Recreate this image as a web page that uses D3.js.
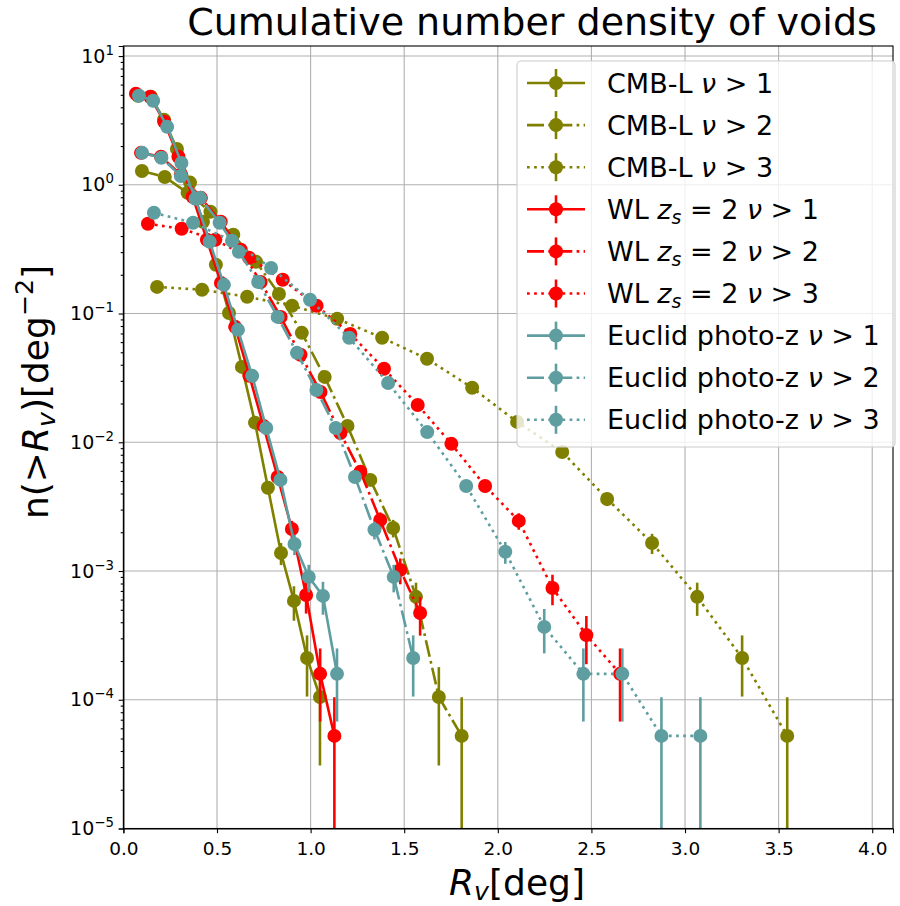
<!DOCTYPE html>
<html><head><meta charset="utf-8">
<script src="https://cdn.jsdelivr.net/npm/d3@7"></script>
<style>body{margin:0;background:#fff} text{font-family:"DejaVu Sans",sans-serif;white-space:pre}</style>
</head><body><svg id="c" width="900" height="906"></svg>
<script>
// ---- data ----
const unitDensity = 5.24e-5; // density of a single void (Poisson error unit)

const cmb1_x = [0.078,0.147,0.217,0.286,0.356,0.425,0.494,0.564,0.633,0.703,0.772,0.842,0.911,0.981,1.050];
const cmb1_y = [4.92,4.83,3.20,1.90,1.04,0.516,0.239,0.101,0.0385,0.0142,0.00443,0.00138,0.000586,0.000211,0.000105];
const cmb2_x = [0.099,0.221,0.343,0.465,0.587,0.709,0.831,0.953,1.075,1.197,1.319,1.441,1.563,1.685,1.807];
const cmb2_y = [1.28,1.15,0.867,0.617,0.409,0.252,0.142,0.0708,0.0322,0.0134,0.0051,0.00216,0.00063,0.000105,5.24e-5];
const cmb3_x = [0.180,0.420,0.661,0.901,1.142,1.382,1.622,1.863,2.103,2.344,2.584,2.824,3.065,3.305,3.546];
const cmb3_y = [0.161,0.153,0.135,0.115,0.091,0.0648,0.0445,0.0265,0.0144,0.00841,0.00363,0.00165,0.00063,0.000211,5.24e-5];

const wl1_x = [0.067,0.143,0.218,0.294,0.370,0.446,0.521,0.597,0.673,0.748,0.824,0.900,0.976,1.051,1.127];
const wl1_y = [5.09,4.83,3.09,1.65,0.807,0.374,0.173,0.0788,0.0328,0.0134,0.00538,0.00212,0.000652,0.000159,5.24e-5];
const wl2_x = [0.094,0.201,0.307,0.414,0.520,0.627,0.733,0.840,0.946,1.053,1.159,1.266,1.372,1.479,1.585];
const wl2_y = [1.77,1.65,1.20,0.792,0.516,0.313,0.176,0.0942,0.0478,0.0246,0.0118,0.00589,0.00249,0.00102,0.000472];
const wl3_x = [0.131,0.311,0.491,0.671,0.851,1.032,1.212,1.392,1.572,1.752,1.932,2.112,2.292,2.473,2.653];
const wl3_y = [0.498,0.455,0.374,0.271,0.183,0.115,0.0695,0.0372,0.0195,0.00972,0.00458,0.00245,0.000739,0.000318,0.000159];

const eu1_x = [0.083,0.159,0.234,0.310,0.385,0.461,0.537,0.612,0.688,0.763,0.839,0.914,0.990,1.066,1.141];
const eu1_y = [4.92,4.50,2.82,1.48,0.778,0.361,0.167,0.0747,0.0328,0.0129,0.0051,0.00162,0.0009,0.000641,0.000159];
const eu2_x = [0.100,0.203,0.307,0.410,0.514,0.617,0.720,0.824,0.927,1.031,1.134,1.237,1.341,1.444,1.548];
const eu2_y = [1.77,1.62,1.17,0.792,0.507,0.302,0.176,0.0942,0.0495,0.0255,0.0129,0.00538,0.00209,0.0009,0.000211];
const eu3_x = [0.163,0.372,0.580,0.789,0.997,1.206,1.414,1.623,1.831,2.040,2.248,2.457,2.665,2.874,3.082];
const eu3_y = [0.606,0.507,0.367,0.226,0.128,0.0648,0.0289,0.0120,0.00458,0.00141,0.000368,0.000159,0.000159,5.24e-5,5.24e-5];

const xTicks = [0.0,0.5,1.0,1.5,2.0,2.5,3.0,3.5,4.0];
const yTickExps = [-5,-4,-3,-2,-1,0,1];

// ---- styling / layout ----
const OLIVE = "#808000", RED = "#ff0000", TEAL = "#5f9ea0";
const DASH = {solid:null, dashdot:"17,4.3,2.7,4.3", dotted:"2.7,4.4"};
const series = [
  {x:cmb1_x, y:cmb1_y, c:OLIVE, ls:"solid",   lab:[{t:"CMB-L "},{t:"ν",it:1},{t:" > 1"}]},
  {x:cmb2_x, y:cmb2_y, c:OLIVE, ls:"dashdot", lab:[{t:"CMB-L "},{t:"ν",it:1},{t:" > 2"}]},
  {x:cmb3_x, y:cmb3_y, c:OLIVE, ls:"dotted",  lab:[{t:"CMB-L "},{t:"ν",it:1},{t:" > 3"}]},
  {x:wl1_x, y:wl1_y, c:RED, ls:"solid",   lab:[{t:"WL "},{t:"z",it:1},{t:"s",it:1,sub:1},{t:" = 2 "},{t:"ν",it:1},{t:" > 1"}]},
  {x:wl2_x, y:wl2_y, c:RED, ls:"dashdot", lab:[{t:"WL "},{t:"z",it:1},{t:"s",it:1,sub:1},{t:" = 2 "},{t:"ν",it:1},{t:" > 2"}]},
  {x:wl3_x, y:wl3_y, c:RED, ls:"dotted",  lab:[{t:"WL "},{t:"z",it:1},{t:"s",it:1,sub:1},{t:" = 2 "},{t:"ν",it:1},{t:" > 3"}]},
  {x:eu1_x, y:eu1_y, c:TEAL, ls:"solid",   lab:[{t:"Euclid photo-z "},{t:"ν",it:1},{t:" > 1"}]},
  {x:eu2_x, y:eu2_y, c:TEAL, ls:"dashdot", lab:[{t:"Euclid photo-z "},{t:"ν",it:1},{t:" > 2"}]},
  {x:eu3_x, y:eu3_y, c:TEAL, ls:"dotted",  lab:[{t:"Euclid photo-z "},{t:"ν",it:1},{t:" > 3"}]},
];

const W = 900, H = 906;
const m = {l:123.4, r:7, t:46, b:77.5};
const svg = d3.select("#c");
const x = d3.scaleLinear().domain([0, 4.111]).range([m.l, W - m.r]);
const y = d3.scaleLog().domain([1e-5, 11.97]).range([H - m.b, m.t]);
const LW = 2.6, MR = 7;

function richText(sel, parts, size, subDrop) {
  let off = 0;
  const sd = subDrop === undefined ? 0.2 : subDrop;
  parts.forEach(p => {
    const small = p.sub || p.sup;
    const fs = small ? size * 0.7 : size;
    const target = p.sub ? size * sd : p.sup ? -size * 0.42 : 0;
    const ts = sel.append("tspan").text(p.t).attr("font-size", fs).attr("dy", target - off);
    if (p.it) ts.attr("font-style", "italic");
    off = target;
  });
  return sel;
}

svg.append("defs").append("clipPath").attr("id","clip").append("rect")
  .attr("x", m.l).attr("y", m.t).attr("width", W - m.l - m.r).attr("height", H - m.t - m.b);

// grid
const grid = svg.append("g").attr("stroke", "#b0b0b0").attr("stroke-width", 1.1);
xTicks.forEach(t => grid.append("line").attr("x1", x(t)).attr("x2", x(t)).attr("y1", m.t).attr("y2", H - m.b));
yTickExps.forEach(e => grid.append("line").attr("x1", m.l).attr("x2", W - m.r).attr("y1", y(Math.pow(10, e))).attr("y2", y(Math.pow(10, e))));

// data
const plot = svg.append("g").attr("clip-path", "url(#clip)");
const line = d3.line().x(d => x(d[0])).y(d => y(d[1]));
series.forEach(s => {
  const g = plot.append("g");
  const pts = s.x.map((v, i) => [v, s.y[i]]);
  pts.forEach(([px, py]) => {
    const err = Math.sqrt(py * unitDensity);
    const lo = py - err > 0 ? py - err : 1e-7;
    g.append("line").attr("x1", x(px)).attr("x2", x(px))
      .attr("y1", y(Math.max(lo, 1e-7))).attr("y2", y(py + err))
      .attr("stroke", s.c).attr("stroke-width", LW);
  });
  g.append("path").attr("d", line(pts)).attr("fill", "none").attr("stroke", s.c)
    .attr("stroke-width", LW).attr("stroke-dasharray", DASH[s.ls]).attr("stroke-linecap", "butt");
  g.selectAll("circle").data(pts).join("circle")
    .attr("cx", d => x(d[0])).attr("cy", d => y(d[1])).attr("r", MR).attr("fill", s.c);
});

// axes
const xAxis = d3.axisBottom(x).tickValues(xTicks).tickFormat(d3.format(".1f")).tickSize(4.7).tickPadding(9);
const gx = svg.append("g").attr("transform", `translate(0,${H - m.b})`).call(xAxis);
gx.selectAll("text").attr("font-size", 18.5).attr("fill", "#000").attr("font-family", "DejaVu Sans");
const yMinor = [];
for (let e = -5; e <= 1; e++) for (let k = 1; k <= 9; k++) { const v = k * Math.pow(10, e); if (v >= 1e-5 && v <= 11.97) yMinor.push(v); }
const gyMinor = svg.append("g").attr("transform", `translate(${m.l},0)`)
  .call(d3.axisLeft(y).tickValues(yMinor.filter(v => !yTickExps.some(e => Math.abs(Math.log10(v) - e) < 1e-9))).tickSize(2.7).tickFormat(""));
gyMinor.select(".domain").remove();
const gy = svg.append("g").attr("transform", `translate(${m.l},0)`)
  .call(d3.axisLeft(y).tickValues(yTickExps.map(e => Math.pow(10, e))).tickSize(4.7).tickFormat(""));
[gx, gy, gyMinor].forEach(g => { g.selectAll("line").attr("stroke-width", 1.1); g.select(".domain").attr("stroke-width", 1.1); });
yTickExps.forEach(e => {
  const t = svg.append("text").attr("x", m.l - 9.5).attr("y", y(Math.pow(10, e)) + 6.5)
    .attr("text-anchor", "end");
  richText(t, [{t:"10"},{t: e < 0 ? "−" + (-e) : String(e), sup:1}], 19);
});
// frame
svg.append("rect").attr("x", m.l).attr("y", m.t).attr("width", W - m.l - m.r).attr("height", H - m.t - m.b)
  .attr("fill", "none").attr("stroke", "#000").attr("stroke-width", 1.1);

// labels
svg.append("text").attr("x", 532).attr("y", 35).attr("text-anchor", "middle")
  .attr("font-size", 38).text("Cumulative number density of voids");
richText(svg.append("text").attr("x", 517).attr("y", 895).attr("text-anchor", "middle"),
  [{t:"R",it:1},{t:"v",it:1,sub:1},{t:"[deg]"}], 36, 0.15);
richText(svg.append("text").attr("transform", `translate(48,392) rotate(-90)`).attr("text-anchor", "middle"),
  [{t:"n("},{t:">"},{t:"R",it:1},{t:"v",it:1,sub:1},{t:")[deg"},{t:"−2",sup:1},{t:"]"}], 36);

// legend
const lg = svg.append("g");
lg.append("rect").attr("x", 517).attr("y", 61).attr("width", 378).attr("height", 386).attr("rx", 4)
  .attr("fill", "#fff").attr("fill-opacity", 0.8).attr("stroke", "#cccccc").attr("stroke-width", 1.1);
series.forEach((s, i) => {
  const cy = 83 + i * 42.1;
  lg.append("line").attr("x1", 527).attr("x2", 585).attr("y1", cy).attr("y2", cy)
    .attr("stroke", s.c).attr("stroke-width", LW).attr("stroke-dasharray", DASH[s.ls]);
  lg.append("line").attr("x1", 556).attr("x2", 556).attr("y1", cy - 14).attr("y2", cy + 14)
    .attr("stroke", s.c).attr("stroke-width", LW);
  lg.append("circle").attr("cx", 556).attr("cy", cy).attr("r", MR).attr("fill", s.c);
  richText(lg.append("text").attr("x", 607).attr("y", cy + 9.5), s.lab, 27);
});
</script></body></html>
